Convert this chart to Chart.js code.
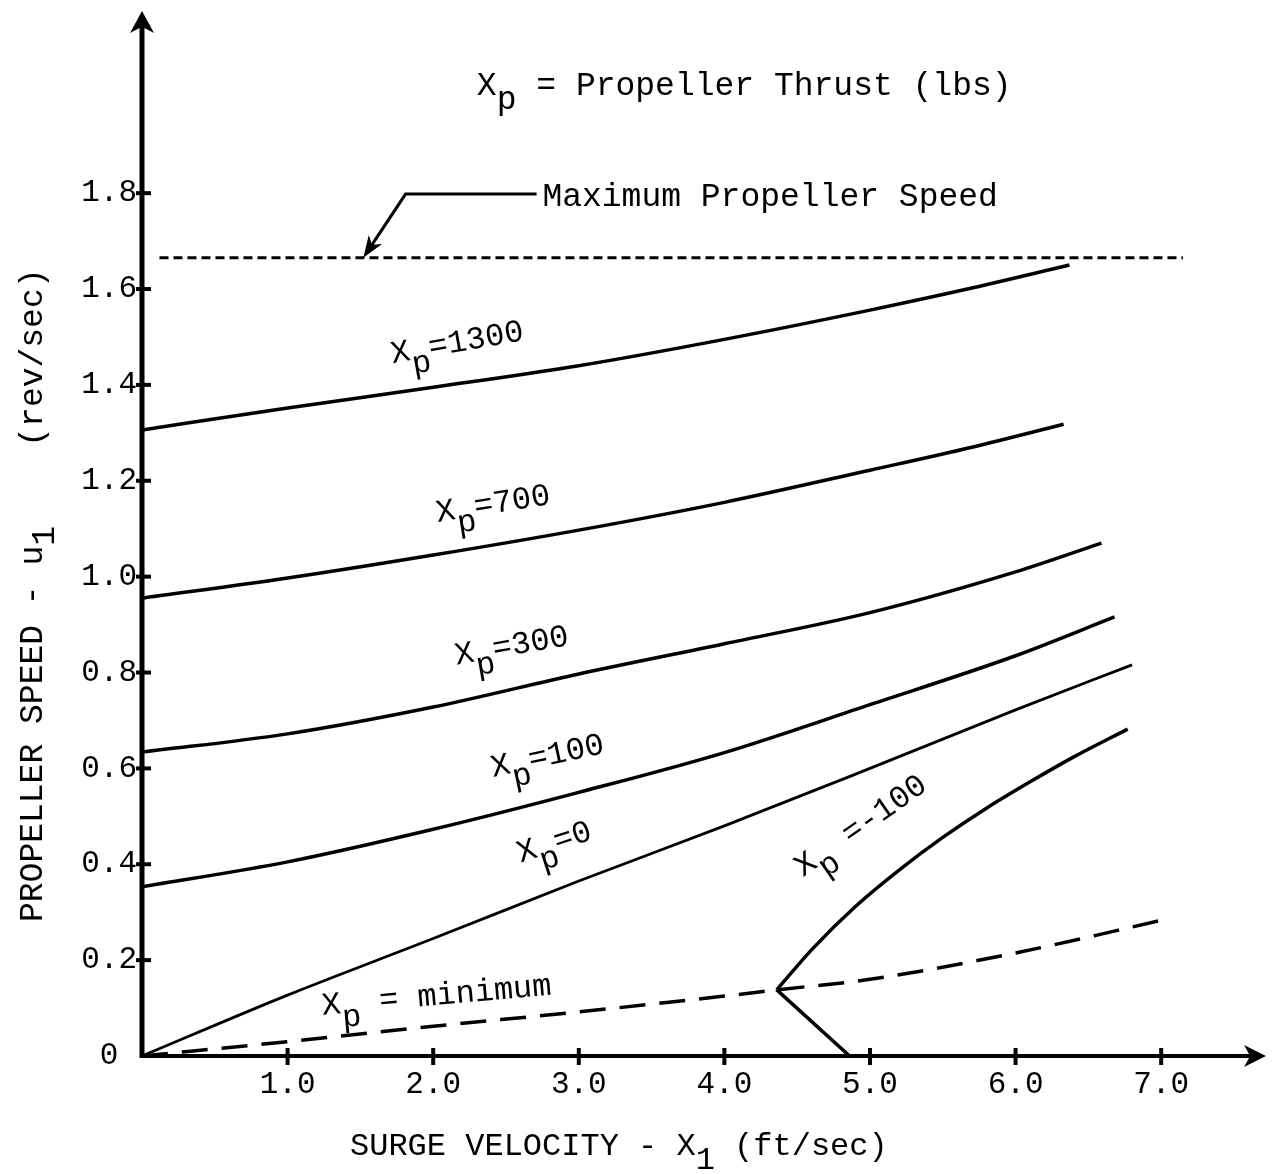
<!DOCTYPE html>
<html>
<head>
<meta charset="utf-8">
<script src="https://cdn.jsdelivr.net/npm/chart.js@4/dist/chart.umd.min.js"></script>
<style>
  html, body { margin: 0; padding: 0; background: #fff; }
  #wrap { width: 1272px; height: 1174px; }
</style>
</head>
<body>
<div id="wrap"><canvas id="chart" width="1272" height="1174"></canvas></div>
<script>
const FONT = '"Liberation Mono", "Courier New", monospace';
const INK = '#000';

// axis ticks
const xTicks = [1, 2, 3, 4, 5, 6, 7];
const yTicks = [0, 0.2, 0.4, 0.6, 0.8, 1.0, 1.2, 1.4, 1.6, 1.8];

// curves: x = surge velocity (ft/sec), y = propeller speed (rev/sec)
const xp1300X = [0, 1, 2, 3, 4, 5, 5.7, 6.37];
const xp1300Y = [1.306, 1.352, 1.395, 1.44, 1.495, 1.556, 1.602, 1.65];

const xp700X = [0, 1, 2, 3, 4, 5, 5.7, 6.33];
const xp700Y = [0.955, 0.997, 1.045, 1.097, 1.155, 1.222, 1.27, 1.318];

const xp300X = [0, 1, 2, 3, 4, 5, 6, 6.59];
const xp300Y = [0.634, 0.672, 0.728, 0.797, 0.86, 0.925, 1.01, 1.07];

const xp100X = [0, 1, 2, 3, 4, 5, 6, 6.68];
const xp100Y = [0.353, 0.405, 0.473, 0.55, 0.633, 0.733, 0.835, 0.916];

const xp0X = [0, 1, 2, 3, 4, 5, 6, 6.8];
const xp0Y = [0, 0.127, 0.245, 0.365, 0.48, 0.6, 0.722, 0.816];

const xpNeg100X = [4.36, 4.6, 4.9, 5.2, 5.5, 5.8, 6.1, 6.4, 6.77];
const xpNeg100Y = [0.138, 0.222, 0.312, 0.388, 0.456, 0.517, 0.572, 0.624, 0.682];
const xpNeg100LowX = [4.86, 4.36];
const xpNeg100LowY = [0, 0.138];

const xpMinX = [0, 1, 2, 3, 4, 4.36, 5, 6, 7.03];
const xpMinY = [0, 0.03, 0.062, 0.092, 0.125, 0.138, 0.16, 0.215, 0.285];

const maxSpeed = 1.665;
const maxSpeedX = [0.12, 7.15];

const pts = (xs, ys) => xs.map((v, i) => ({ x: v, y: ys[i] }));

function curve(xs, ys, extra) {
  return Object.assign({
    data: pts(xs, ys),
    showLine: true,
    pointRadius: 0,
    borderColor: INK,
    borderWidth: 3.5,
    cubicInterpolationMode: 'monotone'
  }, extra || {});
}

const datasets = [
  curve(xp1300X, xp1300Y),
  curve(xp700X, xp700Y),
  curve(xp300X, xp300Y),
  curve(xp100X, xp100Y),
  curve(xp0X, xp0Y, { borderWidth: 2.8 }),
  curve(xpNeg100X, xpNeg100Y),
  curve(xpNeg100LowX, xpNeg100LowY),
  curve(xpMinX, xpMinY, { borderDash: [26, 14], borderWidth: 3.5 }),
  curve(maxSpeedX, maxSpeedX.map(() => maxSpeed), { borderDash: [9, 5], borderWidth: 3 })
];

// labels on the curves (anchor in data units, rotation in degrees)
const curveLabels = [
  { x: 1.72, y: 1.445, rot: -10, parts: [['X', 0], ['p', 14], ['=1300', 0]] },
  { x: 2.03, y: 1.114, rot: -9, parts: [['X', 0], ['p', 14], ['=700', 0]] },
  { x: 2.16, y: 0.816, rot: -10, parts: [['X', 0], ['p', 14], ['=300', 0]] },
  { x: 2.41, y: 0.582, rot: -12, parts: [['X', 0], ['p', 14], ['=100', 0]] },
  { x: 2.60, y: 0.403, rot: -18, parts: [['X', 0], ['p', 14], ['=0', 0]] },
  { x: 4.54, y: 0.373, rot: -35, parts: [['X', 0], ['p', 14], [' =-100', 0]] },
  { x: 1.24, y: 0.086, rot: -5, parts: [['X', 0], ['p', 14], [' = minimum', 0]] }
];

const yArrowTip = 2.18;

function drawRich(ctx, x0, y0, rot, parts, size) {
  ctx.save();
  ctx.translate(x0, y0);
  ctx.rotate(rot);
  ctx.font = size + 'px ' + FONT;
  ctx.textAlign = 'left';
  ctx.textBaseline = 'alphabetic';
  let cx = 0;
  parts.forEach(([t, dy]) => {
    ctx.fillText(t, cx, dy);
    cx += ctx.measureText(t).width;
  });
  ctx.restore();
}

function arrowHead(ctx, x0, y0, ang, len, w) {
  ctx.save();
  ctx.translate(x0, y0);
  ctx.rotate(ang);
  ctx.beginPath();
  ctx.moveTo(0, 0);
  ctx.lineTo(-len, -w);
  ctx.lineTo(-len * 0.72, 0);
  ctx.lineTo(-len, w);
  ctx.closePath();
  ctx.fill();
  ctx.restore();
}

const overlay = {
  id: 'overlay',
  afterDatasetsDraw(chart) {
    const { ctx, chartArea: a, scales: { x, y } } = chart;
    const px = v => x.getPixelForValue(v);
    const py = v => y.getPixelForValue(v);
    const top = py(yArrowTip);
    ctx.save();
    ctx.strokeStyle = INK;
    ctx.fillStyle = INK;
    ctx.lineCap = 'butt';

    // axes with arrows
    ctx.lineWidth = 5;
    ctx.beginPath();
    ctx.moveTo(a.left, a.bottom + 2);
    ctx.lineTo(a.left, top + 12);
    ctx.stroke();
    ctx.lineWidth = 4;
    ctx.beginPath();
    ctx.moveTo(a.left, a.bottom);
    ctx.lineTo(a.right - 12, a.bottom);
    ctx.stroke();
    arrowHead(ctx, a.left, top, -Math.PI / 2, 22, 12);
    arrowHead(ctx, a.right, a.bottom, 0, 22, 11);

    // tick marks
    ctx.lineWidth = 4;
    yTicks.slice(1).forEach(v => {
      ctx.beginPath();
      ctx.moveTo(a.left - 6, py(v));
      ctx.lineTo(a.left + 9, py(v));
      ctx.stroke();
    });
    xTicks.forEach(v => {
      ctx.beginPath();
      ctx.moveTo(px(v), a.bottom - 8);
      ctx.lineTo(px(v), a.bottom + 9);
      ctx.stroke();
    });

    // curve labels
    curveLabels.forEach(l => drawRich(ctx, px(l.x), py(l.y), l.rot * Math.PI / 180, l.parts, 32));

    // heading
    drawRich(ctx, px(2.30), py(2.005), 0, [['X', 0], ['p', 14], [' = Propeller Thrust (lbs)', 0]], 33);

    // maximum propeller speed note with leader
    drawRich(ctx, px(2.75), py(1.773), 0, [['Maximum Propeller Speed', 0]], 33);
    const tipX = px(1.52), tipY = py(maxSpeed);
    const elbX = px(1.81), elbY = py(1.798);
    ctx.lineWidth = 3;
    ctx.beginPath();
    ctx.moveTo(px(2.71), elbY);
    ctx.lineTo(elbX, elbY);
    ctx.lineTo(tipX + (elbX - tipX) * 0.2, tipY + (elbY - tipY) * 0.2);
    ctx.stroke();
    arrowHead(ctx, tipX, tipY, Math.atan2(tipY - elbY, tipX - elbX), 22, 8);

    // axis titles
    drawRich(ctx, 350, 1155, 0, [['SURGE VELOCITY - X', 0], ['1', 14], [' (ft/sec)', 0]], 32);
    drawRich(ctx, 42, 922, -Math.PI / 2, [['PROPELLER SPEED - u', 0], ['1', 12], ['    (rev/sec)', 0]], 33);

    ctx.restore();
  }
};

const tickFont = { family: FONT, size: 31 };

new Chart(document.getElementById('chart').getContext('2d'), {
  type: 'scatter',
  data: { datasets },
  options: {
    responsive: false,
    animation: false,
    devicePixelRatio: 1,
    layout: { padding: { top: 11, right: 6, left: 0, bottom: 0 } },
    plugins: { legend: { display: false }, tooltip: { enabled: false } },
    scales: {
      x: {
        type: 'linear',
        min: 0,
        max: 7.72,
        grid: { display: false, drawTicks: false },
        border: { display: false },
        afterFit: s => { s.height = 118; s.paddingLeft = 0; s.paddingRight = 0; },
        afterBuildTicks: s => { s.ticks = xTicks.map(v => ({ value: v })); },
        ticks: { color: INK, font: tickFont, padding: 10, autoSkip: false, maxRotation: 0,
          callback: v => v.toFixed(1) }
      },
      y: {
        type: 'linear',
        min: 0,
        max: 2.18,
        grid: { display: false, drawTicks: false },
        border: { display: false },
        afterFit: s => { s.width = 142; s.paddingTop = 0; s.paddingBottom = 0; },
        afterBuildTicks: s => { s.ticks = yTicks.map(v => ({ value: v })); },
        ticks: { color: INK, font: tickFont, padding: 5, autoSkip: false,
          callback: v => v === 0 ? '0 ' : v.toFixed(1) }
      }
    }
  },
  plugins: [overlay]
});
</script>
</body>
</html>
